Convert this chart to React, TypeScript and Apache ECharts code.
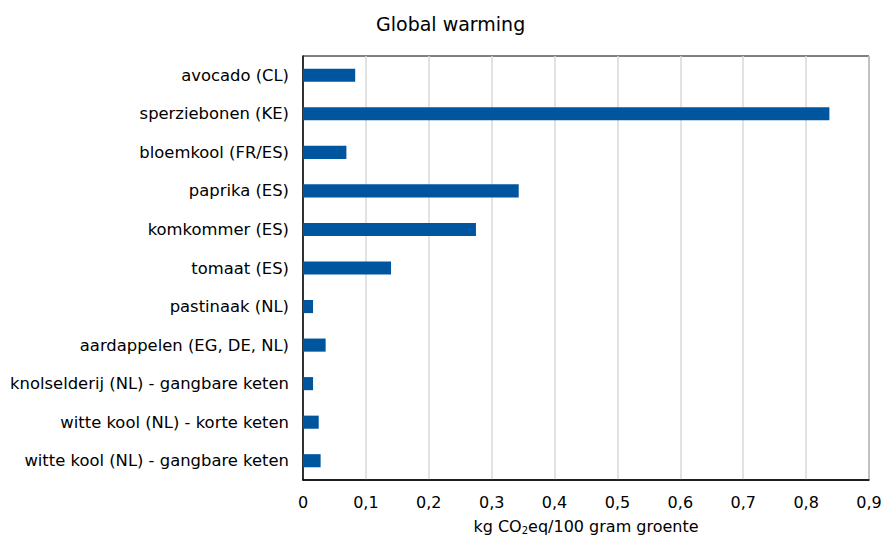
import React, { useEffect, useRef } from "react";
import * as echarts from "echarts";

const categories = [
  "avocado (CL)",
  "sperziebonen (KE)",
  "bloemkool (FR/ES)",
  "paprika (ES)",
  "komkommer (ES)",
  "tomaat (ES)",
  "pastinaak (NL)",
  "aardappelen (EG, DE, NL)",
  "knolselderij (NL) - gangbare keten",
  "witte kool (NL) - korte keten",
  "witte kool (NL) - gangbare keten",
];

const values = [0.083, 0.837, 0.069, 0.343, 0.275, 0.14, 0.016, 0.036, 0.016, 0.025, 0.028];

const FONT = "DejaVu Sans, Verdana, sans-serif";

export default function App() {
  const ref = useRef<HTMLDivElement>(null);

  useEffect(() => {
    if (!ref.current) return;
    const chart = echarts.init(ref.current, undefined, { renderer: "svg" });
    chart.setOption({
      animation: false,
      backgroundColor: "#ffffff",
      title: {
        text: "Global warming",
        left: 371,
        top: 9,
        textStyle: { fontFamily: FONT, fontSize: 19, fontWeight: "normal", color: "#000" },
      },
      grid: {
        left: 303,
        right: 13,
        top: 56,
        bottom: 57,
        outerBoundsMode: "none",
        containLabel: false,
        show: true,
        borderColor: "#000",
        borderWidth: 1,
        backgroundColor: "transparent",
      },
      xAxis: {
        type: "value",
        min: 0,
        max: 0.9,
        interval: 0.1,
        axisLine: { show: true, lineStyle: { color: "#000", width: 1.5 } },
        axisTick: { show: false },
        splitLine: { show: true, lineStyle: { color: "#d9d9d9", width: 1.5 } },
        axisLabel: {
          margin: 14,
          fontFamily: FONT,
          fontSize: 16,
          color: "#000",
          formatter: (v: number) => (Math.round(v * 10) / 10).toString().replace(".", ","),
        },
        name: "kg CO{sub|2}eq/100 gram groente",
        nameLocation: "middle",
        nameGap: 37,
        nameTextStyle: {
          fontFamily: FONT,
          fontSize: 16,
          color: "#000",
          rich: {
            sub: { fontFamily: FONT, fontSize: 10, color: "#000", verticalAlign: "bottom", padding: [8, 0, 0, 0] },
          },
        },
      },
      yAxis: {
        type: "category",
        data: categories,
        inverse: true,
        axisLine: { show: true, lineStyle: { color: "#000", width: 1.5 } },
        axisTick: { show: false },
        axisLabel: { margin: 14, fontFamily: FONT, fontSize: 16.4, color: "#000" },
      },
      series: [
        {
          type: "bar",
          data: values,
          barWidth: "34%",
          itemStyle: { color: "#00559f" },
        },
      ],
    });
    return () => chart.dispose();
  }, []);

  return (
    <div
      ref={ref}
      style={{ position: "fixed", left: 0, top: 0, width: 882, height: 537 }}
    />
  );
}
